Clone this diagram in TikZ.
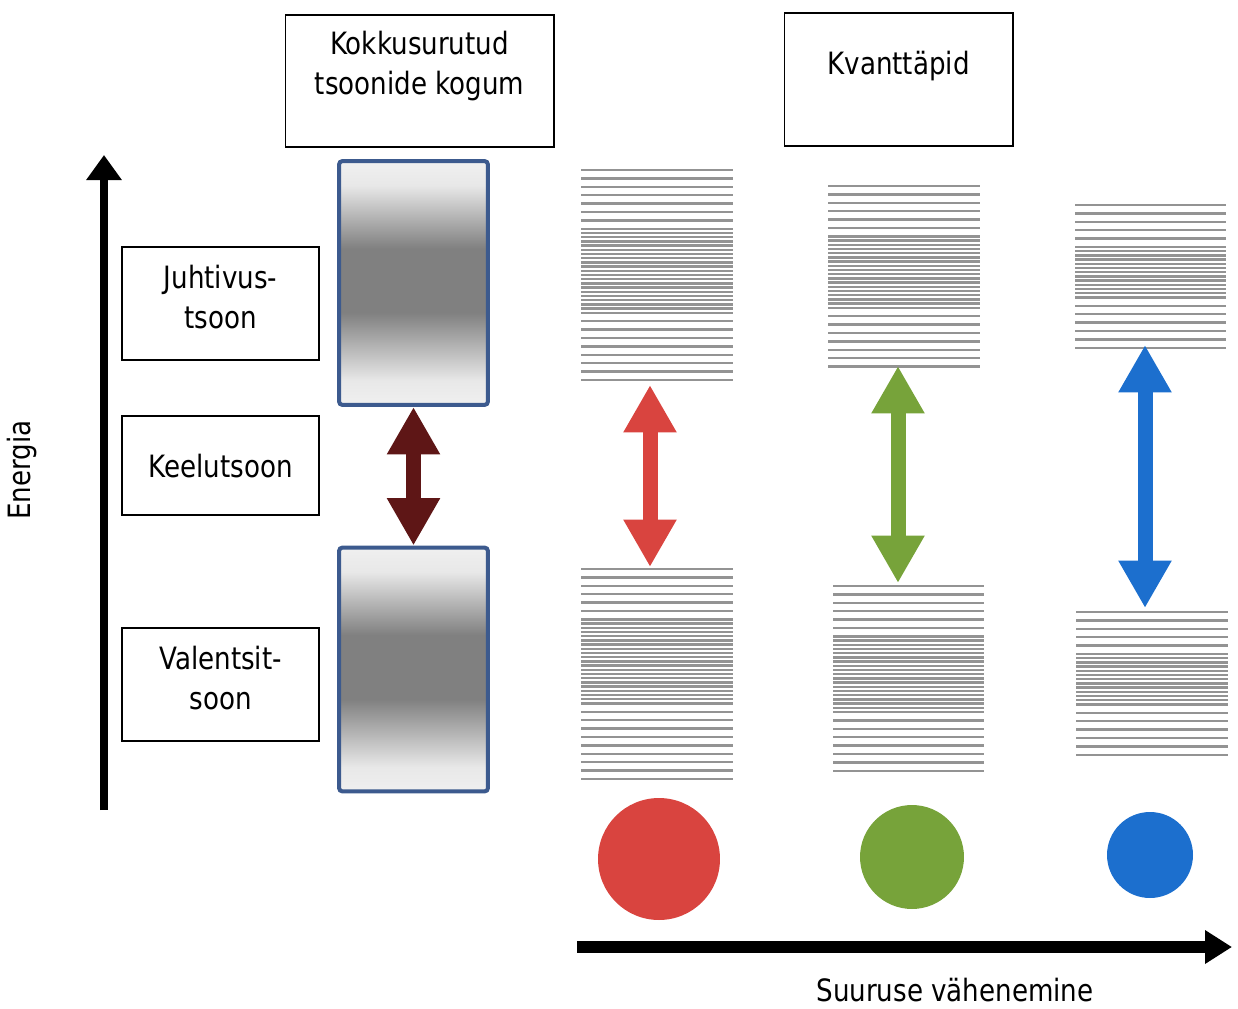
\documentclass[tikz,border=0pt]{standalone}
\usepackage{fontspec}
\setmainfont{DejaVu Sans}[FakeStretch=0.85]
\usetikzlibrary{arrows.meta}

\definecolor{frameblue}{HTML}{3C5A8E}
\definecolor{dotred}{HTML}{D9443F}
\definecolor{dotgreen}{HTML}{77A33A}
\definecolor{dotblue}{HTML}{1C6FCE}
\definecolor{gapbrown}{HTML}{5E1616}

\pgfdeclareverticalshading{bandfill}{100bp}{color(0bp)=(gray!12); color(25bp)=(gray!12);
  color(30bp)=(gray!18); color(44bp)=(gray); color(57bp)=(gray);
  color(70bp)=(gray!18); color(75bp)=(gray!12); color(100bp)=(gray!12)}

\newcommand{\lbl}{\fontsize{17.5}{23.2}\selectfont}

% energy levels: x1, x2, top, sparse, dense, sparse
\newcommand{\levels}[6]{%
  \pgfmathsetmacro\stkA{#3+(#4-1)*8.4}
  \pgfmathsetmacro\stkB{\stkA+#5*4.2}
  \foreach \k in {1,...,#4} \draw[lvl] (#1,{#3+(\k-1)*8.4}) -- (#2,{#3+(\k-1)*8.4});
  \foreach \k in {1,...,#5} \draw[lvl] (#1,{\stkA+\k*4.2}) -- (#2,{\stkA+\k*4.2});
  \foreach \k in {1,...,#6} \draw[lvl] (#1,{\stkB+\k*8.4}) -- (#2,{\stkB+\k*8.4});
}

\begin{document}
\begin{tikzpicture}[x=0.02cm, y=-0.02cm,
    textbox/.style={draw, line width=0.6pt, inner sep=0pt},
    boxtext/.style={font=\lbl, align=center},
    band/.style={draw=frameblue, line width=0.08cm, rounded corners=2pt, shading=bandfill,
      minimum width=2.98cm, minimum height=4.88cm, inner sep=0pt},
    lvl/.style={gray!85, line width=0.048cm},
    gaparrow/.style={line width=0.3cm, {Triangle[width=1cm,length=0.95cm]}-{Triangle[width=1cm,length=0.95cm]}},
    dot/.style={circle, inner sep=0pt}]
    \useasboundingbox (0,0) rectangle (1238,1008);

    \node[textbox, minimum width=5.38cm, minimum height=2.64cm] at (419.5,81) (kogum) {};
    \node[boxtext] at (419.5,66) (kogumtxt) {Kokkusurutud\\tsoonide kogum};
    \node[textbox, minimum width=4.58cm, minimum height=2.66cm] at (898.5,79.5) (kvant) {};
    \node[boxtext] at (898.5,66) (kvanttxt) {Kvanttäpid};

    \node[textbox, minimum width=3.94cm, minimum height=2.26cm] at (220.5,303.5) (juht) {};
    \node[boxtext] at (220.5,297) (juhttxt) {Juhtivus-\\tsoon};
    \node[textbox, minimum width=3.94cm, minimum height=1.98cm] at (220.5,465.5) (keelu) {};
    \node[boxtext] at (220.5,466) (keelutxt) {Keelutsoon};
    \node[textbox, minimum width=3.94cm, minimum height=2.26cm] at (220.5,684.5) (valents) {};
    \node[boxtext] at (220.5,678) (valentstxt) {Valentsit-\\soon};

    \node[boxtext, rotate=90] at (22,470) (energia) {Energia};
    \node[font=\lbl, inner sep=0pt] at (955,990) (suurus) {Suuruse vähenemine};

    \coordinate (ebase) at (104,810);
    \coordinate (etip) at (104,155);
    \draw[line width=0.18cm, -{Triangle[width=0.68cm,length=0.5cm]}] (ebase) -- (etip);

    \node[band] at (413.5,283) (cband) {};
    \node[band] at (413.5,669.5) (vband) {};
    \draw[gaparrow, color=gapbrown] (cband.south) -- (vband.north);

    \levels{581}{733}{170}{8}{20}{8}
    \levels{581}{733}{569}{7}{20}{9}
    \levels{828}{980}{186}{7}{17}{7}
    \levels{833}{984}{586}{7}{18}{7}
    \levels{1075}{1226}{205}{6}{12}{6}
    \levels{1076}{1228}{612}{6}{12}{6}

    \coordinate (rtop) at (650,385);
    \coordinate (rbot) at (650,567);
    \coordinate (gtop) at (898,366);
    \coordinate (gbot) at (898,583);
    \coordinate (btop) at (1145,345);
    \coordinate (bbot) at (1145,608);
    \draw[gaparrow, color=dotred] (rtop) -- (rbot);
    \draw[gaparrow, color=dotgreen] (gtop) -- (gbot);
    \draw[gaparrow, color=dotblue] (btop) -- (bbot);

    \node[dot, fill=dotred, minimum size=2.44cm] at (659,859) (rdot) {};
    \node[dot, fill=dotgreen, minimum size=2.08cm] at (912,857) (gdot) {};
    \node[dot, fill=dotblue, minimum size=1.72cm] at (1150,855) (bdot) {};

    \coordinate (sbase) at (577,947);
    \coordinate (stip) at (1232,947);
    \draw[line width=0.24cm, -{Triangle[width=0.64cm,length=0.54cm]}] (sbase) -- (stip);
\end{tikzpicture}
\end{document}
